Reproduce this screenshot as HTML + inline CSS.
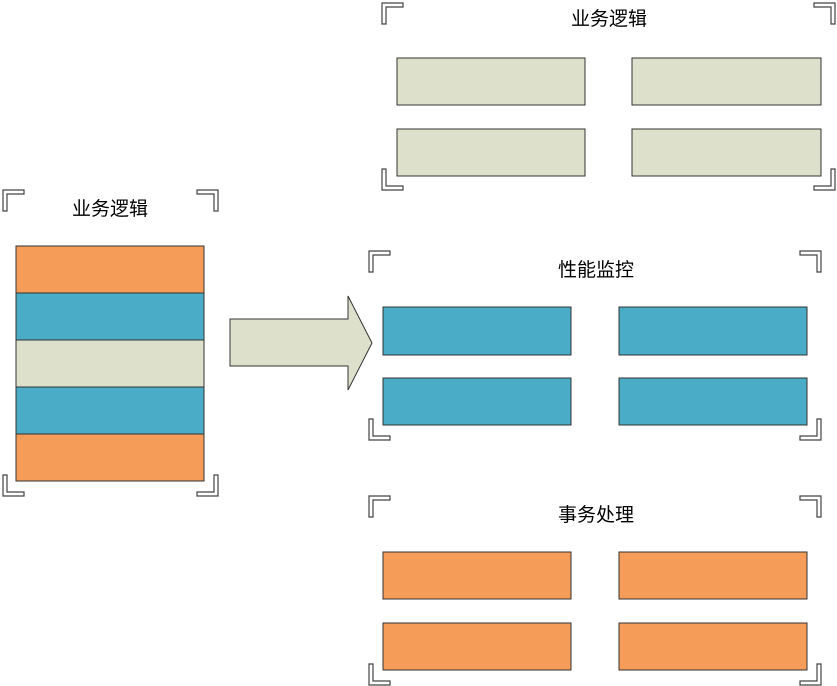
<!DOCTYPE html>
<html><head><meta charset="utf-8"><style>
html,body{margin:0;padding:0;background:#fff;}
svg{display:block;}
text{font-family:"Liberation Sans","Noto Sans CJK SC",sans-serif;font-size:19px;fill:#000;}
</style></head><body>
<svg width="837" height="686" viewBox="0 0 837 686" xmlns="http://www.w3.org/2000/svg">
<defs>
<polygon id="br" points="0,0 21,0 21,4 4,4 4,21 0,21" fill="#fff" stroke="#444" stroke-width="1.2"/>
</defs>
<g stroke="#333" stroke-width="1">
<rect x="16" y="246" width="188" height="47" fill="#f59d58"/>
<rect x="16" y="293" width="188" height="47" fill="#4aacc6"/>
<rect x="16" y="340" width="188" height="47" fill="#dde0cb"/>
<rect x="16" y="387" width="188" height="47" fill="#4aacc6"/>
<rect x="16" y="434" width="188" height="47" fill="#f59d58"/>
<polygon points="230,319 348,319 348,296 372,343 348,390 348,366 230,366" fill="#dde0cb"/>
<rect x="397" y="58" width="188" height="47" fill="#dde0cb"/>
<rect x="632" y="58" width="189" height="47" fill="#dde0cb"/>
<rect x="397" y="129" width="188" height="47" fill="#dde0cb"/>
<rect x="632" y="129" width="189" height="47" fill="#dde0cb"/>
<rect x="383" y="307" width="188" height="48" fill="#4aacc6"/>
<rect x="619" y="307" width="188" height="48" fill="#4aacc6"/>
<rect x="383" y="378" width="188" height="47" fill="#4aacc6"/>
<rect x="619" y="378" width="188" height="47" fill="#4aacc6"/>
<rect x="383" y="552" width="188" height="47" fill="#f59d58"/>
<rect x="619" y="552" width="188" height="47" fill="#f59d58"/>
<rect x="383" y="623" width="188" height="47" fill="#f59d58"/>
<rect x="619" y="623" width="188" height="47" fill="#f59d58"/>
</g>
<use href="#br" transform="translate(3,190)"/>
<use href="#br" transform="translate(218,190) scale(-1,1)"/>
<use href="#br" transform="translate(3,496) scale(1,-1)"/>
<use href="#br" transform="translate(218,496) scale(-1,-1)"/>
<use href="#br" transform="translate(382,3)"/>
<use href="#br" transform="translate(835,3) scale(-1,1)"/>
<use href="#br" transform="translate(382,190) scale(1,-1)"/>
<use href="#br" transform="translate(835,190) scale(-1,-1)"/>
<use href="#br" transform="translate(369,251)"/>
<use href="#br" transform="translate(821,251) scale(-1,1)"/>
<use href="#br" transform="translate(369,440) scale(1,-1)"/>
<use href="#br" transform="translate(821,440) scale(-1,-1)"/>
<use href="#br" transform="translate(369,496)"/>
<use href="#br" transform="translate(821,496) scale(-1,1)"/>
<use href="#br" transform="translate(369,685) scale(1,-1)"/>
<use href="#br" transform="translate(821,685) scale(-1,-1)"/>
<text x="110" y="215" text-anchor="middle">业务逻辑</text>
<text x="609" y="25" text-anchor="middle">业务逻辑</text>
<text x="596" y="276" text-anchor="middle">性能监控</text>
<text x="596" y="521" text-anchor="middle">事务处理</text>
</svg>
</body></html>
